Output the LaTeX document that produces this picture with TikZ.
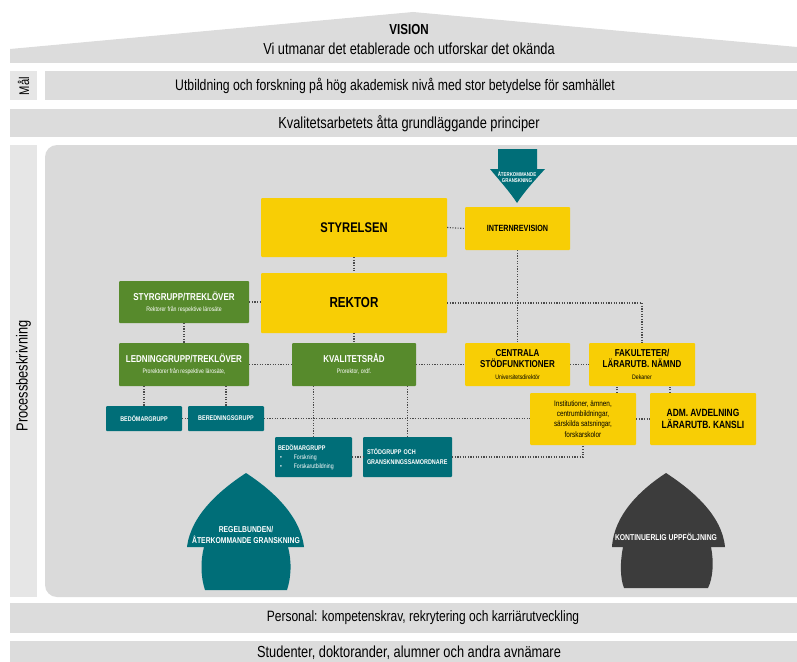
\documentclass[tikz,border=0pt]{standalone}
\usepackage{fontspec}
\setmainfont{Liberation Sans}[FakeStretch=0.8]
\usetikzlibrary{calc}
\definecolor{band}{HTML}{DCDCDC}
\definecolor{lite}{HTML}{E6E6E6}
\definecolor{area}{HTML}{DADADA}
\definecolor{yel}{HTML}{F8CE05}
\definecolor{grn}{HTML}{578A2C}
\definecolor{tealc}{HTML}{006E78}
\definecolor{darkc}{HTML}{3C3C3C}
\definecolor{dotc}{HTML}{4A4A4A}
\newcommand\fs[2]{\fontsize{#1}{#2}\selectfont}
\tikzset{
  boxbase/.style={rectangle, inner sep=0pt, align=center, rounded corners=1pt},
  ybox/.style={boxbase, fill=yel, text=black},
  gbox/.style={boxbase, fill=grn, text=white},
  tbox/.style={boxbase, fill=tealc, text=white},
  conn/.style={draw=dotc, line width=1.1pt, dash pattern=on 1.1pt off 1.5pt},
  bandtext/.style={inner sep=0pt},
}
\begin{document}
\begin{tikzpicture}[x=1pt,y=-1pt]
\useasboundingbox (0,0) rectangle (797,661);
% bands
\fill[band] (10,63) -- (10,49) -- (413,12) -- (797,47) -- (797,63) -- cycle;
\node[inner sep=0pt, font=\fs{14.5}{16}\bfseries] (vision) at (409,30) {VISION};
\node[bandtext, font=\fs{16}{18}] (visiontext) at (409,49) {Vi utmanar det etablerade och utforskar det okända};
\fill[lite] (10,71) rectangle (37,100);
\node[rotate=90, inner sep=0pt, font=\fs{14}{16}] (mal) at (23.5,86) {Mål};
\fill[band] (45,71) rectangle (797,100);
\node[bandtext, font=\fs{15.3}{17}] (maltext) at (395,86) {Utbildning och forskning på hög akademisk nivå med stor betydelse för samhället};
\fill[band] (10,109) rectangle (797,137);
\node[bandtext, font=\fs{16}{18}] (kval) at (409,124) {Kvalitetsarbetets åtta grundläggande principer};
\fill[lite] (10,145) rectangle (37,597);
\node[rotate=90, inner sep=0pt, font=\fs{16}{18}] (proc) at (23.5,376) {Processbeskrivning};
\fill[area, rounded corners=12pt] (45,145) rectangle (820,597);
\fill[band] (10,603) rectangle (797,633);
\node[bandtext, font=\fs{15}{17}] (personal) at (423,618) {Personal: kompetenskrav, rekrytering och karriärutveckling};
\fill[band] (10,641) rectangle (797,675);
\node[bandtext, font=\fs{16}{18}] (studenter) at (409,653) {Studenter, doktorander, alumner och andra avnämare};

% arrows
\fill[tealc] (498,149) -- (537,149) -- (537,169) -- (545,169) .. controls (535,180) and (524,192) .. (517,203) .. controls (510,192) and (499,180) .. (490,169) -- (498,169) -- cycle;
\node[align=center, text=white, inner sep=0pt, font=\fs{5.5}{6.5}\bfseries] (topar) at (517,177) {ÅTERKOMMANDE\\GRANSKNING};

\fill[tealc] (246,473) .. controls (272,490) and (300,515) .. (304,547) -- (288,547) .. controls (292,562) and (291,578) .. (287,590) -- (205,590) .. controls (201,578) and (200,562) .. (204,547) -- (187,547) .. controls (191,515) and (220,490) .. (246,473) -- cycle;
\node[align=center, text=white, inner sep=0pt, font=\fs{8.5}{10.5}\bfseries] (regel) at (246,535) {REGELBUNDEN/\\ÅTERKOMMANDE GRANSKNING};

\fill[darkc] (666,473) .. controls (692,490) and (722,515) .. (725,547) -- (711,547) .. controls (714,562) and (713,578) .. (708,588) -- (624,588) .. controls (620,578) and (620,562) .. (623,547) -- (612,547) .. controls (614,515) and (640,490) .. (666,473) -- cycle;
\node[text=white, inner sep=0pt, font=\fs{8.5}{10}\bfseries] (kont) at (666,537) {KONTINUERLIG UPPFÖLJNING};

% boxes
\node[ybox, minimum width=186pt, minimum height=59pt, font=\fs{14}{16}\bfseries] (styrelsen) at (354,227.5) {STYRELSEN};
\node[ybox, minimum width=105pt, minimum height=43pt, font=\fs{9}{11}\bfseries] (internrev) at (517.5,228.5) {INTERNREVISION};
\node[ybox, minimum width=186pt, minimum height=60pt, font=\fs{14.5}{16}\bfseries] (rektor) at (354,303) {REKTOR};
\node[gbox, minimum width=130pt, minimum height=42pt, font=\fs{10}{12}\bfseries] (styrgrupp) at (184,302) {STYRGRUPP/TREKLÖVER\\[-1pt]{\fs{6.5}{8}\mdseries Rektorer från respektive lärosäte}};
\node[gbox, minimum width=130pt, minimum height=43pt, font=\fs{10}{12}\bfseries] (ledning) at (184,364.5) {LEDNINGGRUPP/TREKLÖVER\\[-1pt]{\fs{6.5}{8}\mdseries Prorektorer från respektive lärosäte,}};
\node[gbox, minimum width=124pt, minimum height=43pt, font=\fs{10}{12}\bfseries] (kvalitet) at (354,364.5) {KVALITETSRÅD\\[-1pt]{\fs{6.5}{8}\mdseries Prorektor, ordf.}};
\node[tbox, minimum width=76pt, minimum height=25pt, font=\fs{6.8}{8}\bfseries] (bedomar1) at (144,418.5) {BEDÖMARGRUPP};
\node[tbox, minimum width=76pt, minimum height=25pt, font=\fs{6.8}{8}\bfseries] (beredning) at (226,418.5) {BEREDNINGSGRUPP};
\node[ybox, minimum width=105pt, minimum height=43pt, font=\fs{10}{11}\bfseries] (centrala) at (517.5,364.5) {CENTRALA\\STÖDFUNKTIONER\\[1pt]{\fs{6.5}{8}\mdseries Universitetsdirektör}};
\node[ybox, minimum width=106pt, minimum height=43pt, font=\fs{10}{11}\bfseries] (fakulteter) at (642,364.5) {FAKULTETER/\\LÄRARUTB. NÄMND\\[1pt]{\fs{6.5}{8}\mdseries Dekaner}};
\node[ybox, minimum width=106pt, minimum height=52pt, font=\fs{8}{10.2}] (inst) at (583,419) {Institutioner, ämnen,\\centrumbildningar,\\särskilda satsningar,\\forskarskolor};
\node[ybox, minimum width=106pt, minimum height=52pt, font=\fs{10.5}{12.5}\bfseries] (adm) at (703,419) {ADM. AVDELNING\\LÄRARUTB. KANSLI};
\node[tbox, minimum width=77pt, minimum height=40pt, align=left, text width=71pt, font=\fs{6.5}{9}] (bedomar2) at (313.5,457) {{\fs{6.8}{9}\bfseries BEDÖMARGRUPP}\\\hspace*{2pt}•\hspace{12pt}Forskning\\\hspace*{2pt}•\hspace{12pt}Forskarutbildning};
\node[tbox, minimum width=89pt, minimum height=40pt, align=left, text width=81pt, font=\fs{6.8}{10}\bfseries] (stodgrupp) at (407.5,457) {STÖDGRUPP OCH\\GRANSKNINGSSAMORDNARE};

% connectors
\draw[conn] (styrelsen.east) -- (internrev.west);
\draw[conn] (styrelsen.south) -- (rektor.north);
\draw[conn] (styrgrupp.east) -- (styrgrupp.east -| rektor.west);
\draw[conn] (styrgrupp.south) -- (ledning.north);
\draw[conn] (ledning.east) -- (kvalitet.west);
\draw[conn] (rektor.south) -- (kvalitet.north);
\draw[conn] (kvalitet.east) -- (centrala.west);
\draw[conn] (centrala.east) -- (fakulteter.west);
\draw[conn] (internrev.south) -- (centrala.north);
\draw[conn] (rektor.east) -| (fakulteter.north);
\draw[conn] (bedomar1.north |- ledning.south) -- (bedomar1.north);
\draw[conn] (beredning.north |- ledning.south) -- (beredning.north);
\draw[conn] (bedomar1.east) -- (beredning.west);
\draw[conn] (beredning.east) -- (beredning.east -| inst.west);
\draw[conn] (bedomar2.north |- kvalitet.south) -- (bedomar2.north);
\draw[conn] (stodgrupp.north |- kvalitet.south) -- (stodgrupp.north);
\draw[conn] (bedomar2.east) -- (stodgrupp.west);
\draw[conn] (stodgrupp.east) -| (inst.south);
\draw[conn] ([xshift=34pt]inst.north) -- ([xshift=34pt]inst.north |- fakulteter.south);
\draw[conn] ([xshift=-33pt]adm.north) -- ([xshift=-33pt]adm.north |- fakulteter.south);
\draw[conn] (inst.east) -- (adm.west);
\end{tikzpicture}
\end{document}
